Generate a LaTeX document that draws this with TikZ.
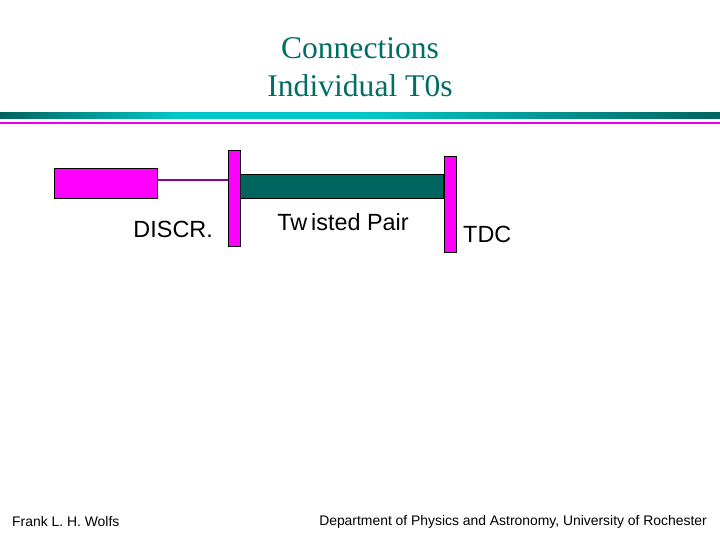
\documentclass[tikz,border=0pt]{standalone}
\usepackage{fontspec}
\setmainfont{Liberation Serif}
\setsansfont{Liberation Sans}
\usetikzlibrary{positioning}

\definecolor{titleteal}{RGB}{0,110,100}
\definecolor{barteal}{RGB}{0,100,95}
\definecolor{rulecyan}{RGB}{0,200,200}
\definecolor{padmagenta}{RGB}{255,0,255}
\definecolor{wirepurple}{RGB}{140,0,140}

\tikzset{
	pad/.style = {draw = black, fill = padmagenta, line width = 0.6pt},
	label/.style = {font = \sffamily\fontsize{23.4}{26}\selectfont, inner sep = 0pt},
	footer/.style = {font = \sffamily\fontsize{13.9}{16}\selectfont, inner sep = 0pt}
}

\begin{document}
\begin{tikzpicture}[x = 1pt, y = -1pt]

	% Page
	
	\useasboundingbox (0, 0) rectangle (720, 540);
	
	% Title
	
	\node [font = \fontsize{31.6}{38}\selectfont, text = titleteal, align = center] (title) at (360, 67) {Connections\\Individual T0s};
	
	% Rules under the title
	
	\shade [left color = barteal, right color = rulecyan, middle color = rulecyan] (0, 113) rectangle (360, 119);
	\shade [left color = rulecyan, right color = barteal] (360, 113) rectangle (720, 119);
	\fill [padmagenta!90!black] (0, 122) rectangle (720, 124);
	
	% Discriminator and connectors
	
	\node [pad, minimum width = 103, minimum height = 30, inner sep = 0pt] (discr) at (105.5, 183) {};
	\node [pad, minimum width = 12, minimum height = 96, inner sep = 0pt] (lconn) at (234, 198) {};
	\node [pad, minimum width = 12, minimum height = 96, inner sep = 0pt] (rconn) at (450, 204) {};
	
	% Cables
	
	\draw [wirepurple, line width = 1.5pt] (discr.east |- 0, 180) -- (lconn.west |- 0, 180);
	\draw [black, fill = barteal, line width = 0.6pt] (lconn.east |- 0, 174) rectangle (rconn.west |- 0, 198);
	
	% Labels
	
	\node [label, anchor = east] (discrlabel) at (213, 229) {DISCR.};
	\node [label] (twisted) at (343, 222) {Tw\,isted Pair};
	\node [label, anchor = west] (tdc) at (463, 234) {TDC};
	
	% Footer
	
	\node [footer, anchor = west] (author) at (12, 522) {Frank L. H. Wolfs};
	\node [footer, anchor = east] (dept) at (707, 522) {Department of Physics and Astronomy, University of Rochester};

\end{tikzpicture}
\end{document}
